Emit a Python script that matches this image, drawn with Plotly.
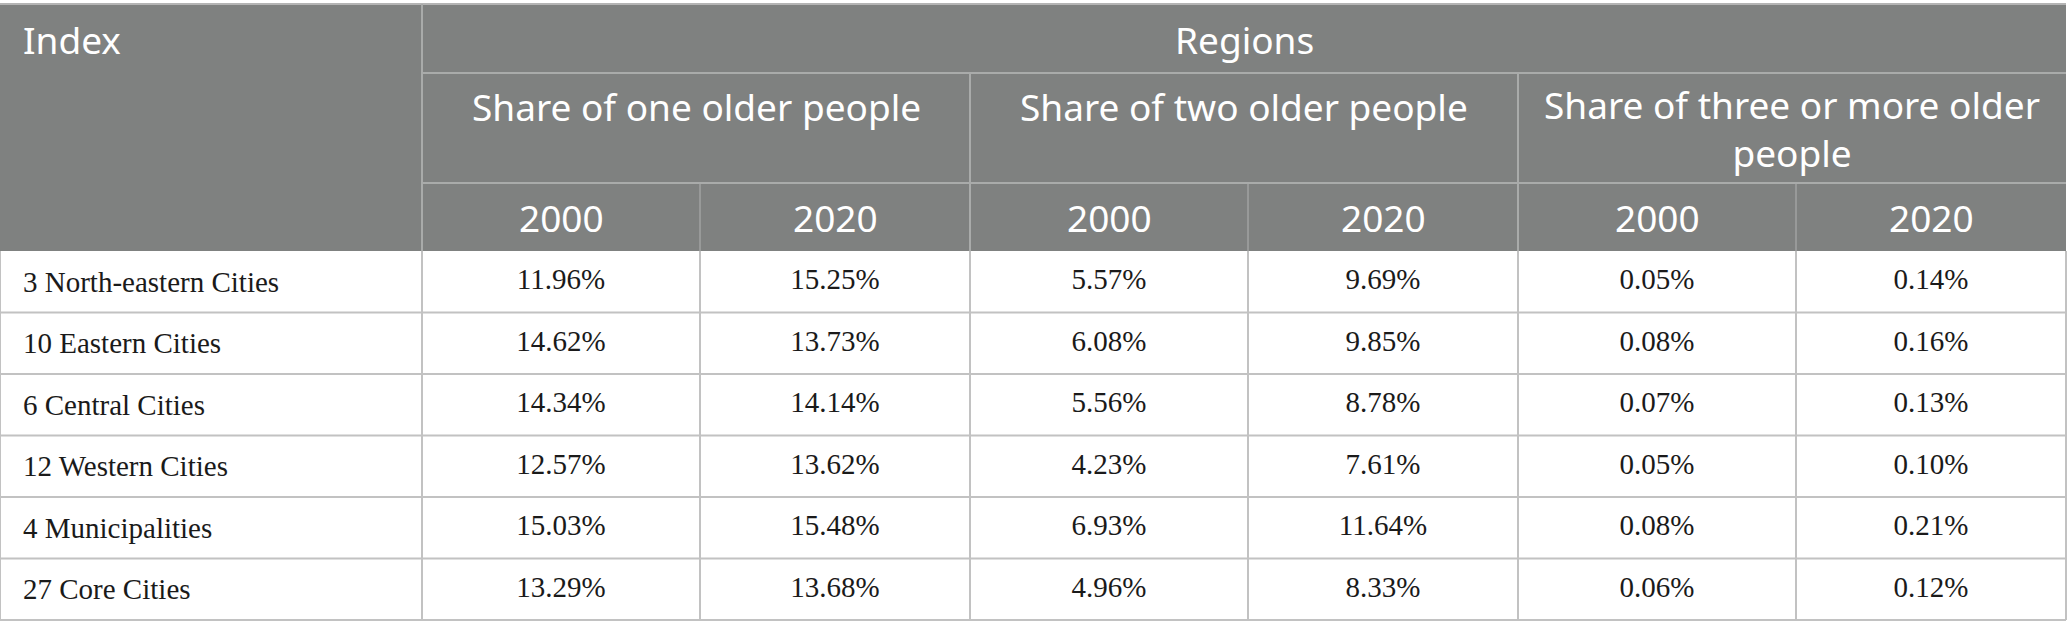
import plotly.graph_objects as go
import numpy as np

# table content
regions = ["3 North-eastern Cities", "10 Eastern Cities", "6 Central Cities",
           "12 Western Cities", "4 Municipalities", "27 Core Cities"]
groups = ["Share of one older people", "Share of two older people",
          "Share of three or more older<br>people"]
years = ["2000", "2020"]
one_2000 = [11.96, 14.62, 14.34, 12.57, 15.03, 13.29]
one_2020 = [15.25, 13.73, 14.14, 13.62, 15.48, 13.68]
two_2000 = [5.57, 6.08, 5.56, 4.23, 6.93, 4.96]
two_2020 = [9.69, 9.85, 8.78, 7.61, 11.64, 8.33]
three_2000 = [0.05, 0.08, 0.07, 0.05, 0.08, 0.06]
three_2020 = [0.14, 0.16, 0.13, 0.10, 0.21, 0.12]

# geometry (pixels)
W, H = 2067, 638
col_widths = [422, 278, 270, 278, 270, 278, 270]
top = 4
head_heights = [69, 110, 68]
body_height = 61.5

HEAD_BG = "#7f8180"
HEAD_LINE = "#a9abaa"
BODY_LINE = "#c2c2c2"
HEAD_FONT = dict(family="Noto Sans", size=37, color="white")
BODY_FONT = dict(family="Liberation Serif", size=29, color="#1a1a1a")

x_edges = np.concatenate([[0], np.cumsum(col_widths)])
h_edges = top + np.concatenate([[0], np.cumsum(head_heights)])
b_edges = h_edges[-1] + body_height * np.arange(len(regions) + 1)
x_mid = (x_edges[:-1] + x_edges[1:]) / 2
b_mid = (b_edges[:-1] + b_edges[1:]) / 2

columns = [one_2000, one_2020, two_2000, two_2020, three_2000, three_2020]

fig = go.Figure()
shapes = []
annotations = []


def line(x0, y0, x1, y1, color, width=1.5):
    shapes.append(dict(type="line", x0=x0, y0=y0, x1=x1, y1=y1, xref="x", yref="y",
                       line=dict(color=color, width=width), layer="above"))


# header background
shapes.append(dict(type="rect", x0=x_edges[0], x1=x_edges[-1], y0=h_edges[0], y1=h_edges[-1],
                   xref="x", yref="y", fillcolor=HEAD_BG, line=dict(width=0), layer="below"))

# header lines
line(x_edges[0], h_edges[0], x_edges[-1], h_edges[0], "#b4b4b4", 2)
line(x_edges[1], h_edges[0], x_edges[1], h_edges[-1], HEAD_LINE, 2)
line(x_edges[1], h_edges[1], x_edges[-1], h_edges[1], HEAD_LINE, 2)
line(x_edges[1], h_edges[2], x_edges[-1], h_edges[2], HEAD_LINE, 2)
for g in range(1, len(groups)):
    xe = x_edges[1 + 2 * g]
    line(xe, h_edges[1], xe, h_edges[-1], HEAD_LINE, 2)
for g in range(len(groups)):
    xe = x_edges[2 + 2 * g]
    line(xe, h_edges[2], xe, h_edges[-1], HEAD_LINE, 1.2)

# body lines
for y in b_edges[1:]:
    line(x_edges[0], y, x_edges[-1], y, BODY_LINE, 2)
for xe in x_edges:
    line(xe, b_edges[0], xe, b_edges[-1], BODY_LINE, 2)

# header text
annotations.append(dict(x=21, y=(h_edges[0] + h_edges[1]) / 2 + 1, text="Index",
                        xanchor="left", yanchor="middle", font=HEAD_FONT))
annotations.append(dict(x=(x_edges[1] + x_edges[-1]) / 2, y=(h_edges[0] + h_edges[1]) / 2 + 1,
                        text="Regions", xanchor="center", yanchor="middle", font=HEAD_FONT))
for g, name in enumerate(groups):
    gx = (x_edges[1 + 2 * g] + x_edges[3 + 2 * g]) / 2
    n_lines = name.count("<br>") + 1
    annotations.append(dict(x=gx, y=h_edges[1] + 33 + (n_lines - 1) * 22, text=name,
                            xanchor="center", yanchor="middle", font=HEAD_FONT))
    for k, yr in enumerate(years):
        annotations.append(dict(x=x_mid[1 + 2 * g + k], y=(h_edges[2] + h_edges[3]) / 2,
                                text=yr, xanchor="center", yanchor="middle", font=HEAD_FONT))

# body text
for i, name in enumerate(regions):
    annotations.append(dict(x=21, y=b_mid[i], text=name, xanchor="left",
                            yanchor="middle", font=BODY_FONT))

for c, vals in enumerate(columns):
    fig.add_trace(go.Scatter(
        x=[x_mid[c + 1]] * len(vals), y=b_mid, mode="text",
        text=[f"{v:.2f}%" for v in vals], textposition="middle center",
        textfont=BODY_FONT, hoverinfo="skip", showlegend=False))

for a in annotations:
    a.update(xref="x", yref="y", showarrow=False)

fig.update_layout(
    width=W, height=H,
    margin=dict(l=0, r=0, t=0, b=0),
    paper_bgcolor="white", plot_bgcolor="white",
    shapes=shapes, annotations=annotations,
    xaxis=dict(range=[0, W], visible=False, fixedrange=True),
    yaxis=dict(range=[H, 0], visible=False, fixedrange=True),
)

# drop the page's default body margin so the table sits at the window's corner
fig.write_html("out.html", config={"displayModeBar": False},
               post_script="document.body.style.margin = '0';")
